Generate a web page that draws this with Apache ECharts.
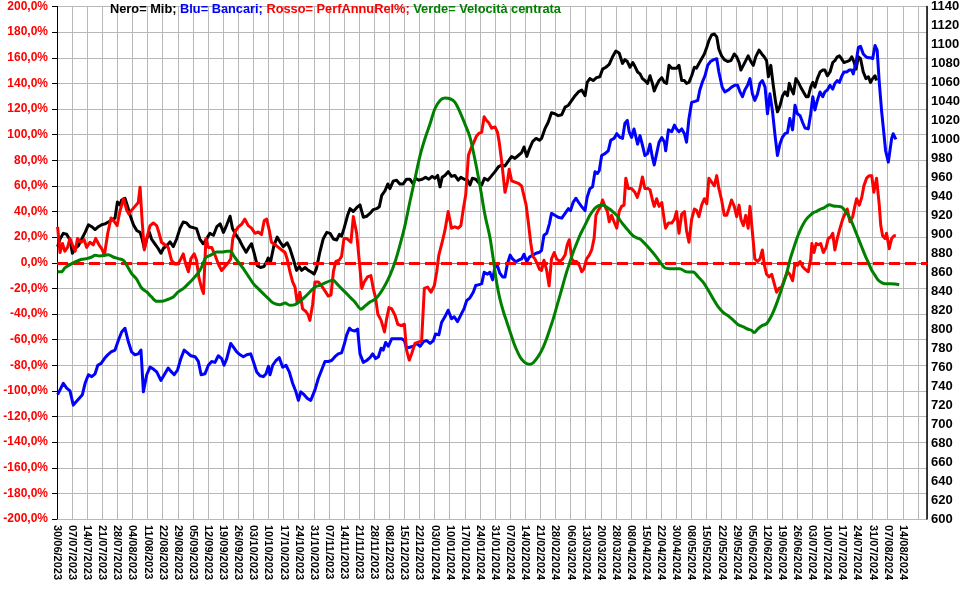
<!DOCTYPE html>
<html>
<head>
<meta charset="utf-8">
<script src="https://cdn.jsdelivr.net/npm/echarts@6/dist/echarts.min.js"></script>
<style>
html,body{margin:0;padding:0;background:#fff;}
#c{width:966px;height:589px;}
</style>
</head>
<body>
<div id="c"></div>
<script>
// Tick labels (one every 5 trading days, index = position/5)
const tickLabels = ["30/06/2023","07/07/2023","14/07/2023","21/07/2023","28/07/2023","04/08/2023","11/08/2023","22/08/2023","29/08/2023","05/09/2023","12/09/2023","19/09/2023","26/09/2023","03/10/2023","10/10/2023","17/10/2023","24/10/2023","31/10/2023","07/11/2023","14/11/2023","21/11/2023","28/11/2023","08/12/2023","15/12/2023","22/12/2023","03/01/2024","10/01/2024","17/01/2024","24/01/2024","31/01/2024","07/02/2024","14/02/2024","21/02/2024","28/02/2024","06/03/2024","13/03/2024","20/03/2024","28/03/2024","08/04/2024","15/04/2024","22/04/2024","30/04/2024","08/05/2024","15/05/2024","22/05/2024","29/05/2024","05/06/2024","12/06/2024","19/06/2024","26/06/2024","03/07/2024","10/07/2024","17/07/2024","24/07/2024","31/07/2024","07/08/2024","14/08/2024"];
const dayCount = 288; // trading-day slots on the x axis

// Nero = Mib (right axis) : [trading-day index, value]
const mib = [[0.2,887],[1.0,895],[2.1,901],[3.2,900],[4.3,894],[5.1,880],[6.0,885],[7.1,888],[8.2,895],[9.3,902],[10.4,910],[11.5,908],[12.6,905],[13.7,908],[14.8,910],[15.9,911],[17.0,913],[18.1,915],[19.2,917],[20.0,934],[20.8,931],[21.4,936],[22.5,938],[23.4,929],[24.2,920],[25.3,910],[26.4,904],[27.5,902],[28.2,895],[28.9,885],[29.7,895],[30.6,902],[31.3,895],[32.4,890],[33.5,885],[34.4,880],[35.2,885],[36.3,888],[37.4,892],[38.5,887],[39.6,895],[40.7,906],[41.8,913],[42.9,912],[44.0,908],[45.1,907],[46.2,906],[47.3,895],[48.4,890],
[49.5,895],[50.6,901],[51.8,899],[52.9,908],[54.0,911],[55.1,902],[56.2,910],[57.3,919],[58.1,906],[59.3,899],[60.4,894],[61.5,887],[62.6,881],[63.7,887],[64.4,890],[65.2,881],[66.3,867],[67.4,865],[68.5,866],[69.4,871],[69.9,875],[70.7,871],[71.8,888],[72.9,897],[73.8,892],[74.9,887],[76.2,891],[77.1,885],[78.2,874],[79.3,862],[80.2,866],[81.0,862],[82.1,865],[83.2,862],[84.3,860],[85.1,858],[85.9,864],[87.0,881],[88.1,895],[89.3,902],[90.4,901],[91.5,895],[92.6,894],[93.5,900],[94.2,898],[95.0,906],
[96.2,920],[97.0,927],[98.1,924],[99.2,928],[100.3,931],[101.4,918],[102.5,919],[103.6,922],[104.7,926],[105.8,927],[106.7,929],[107.5,941],[108.6,946],[109.5,953],[110.2,948],[111.3,956],[112.4,957],[113.5,953],[114.6,953],[115.7,958],[116.8,958],[117.9,953],[118.7,959],[119.8,957],[120.9,958],[122.0,960],[123.1,958],[124.2,961],[125.1,959],[126.0,962],[126.8,950],[127.5,960],[128.4,962],[129.5,966],[130.6,961],[131.7,962],[132.8,957],[133.7,960],[134.8,958],[135.9,957],[136.7,952],[137.5,959],[138.6,958],[139.7,954],[140.6,952],[141.5,959],[142.6,957],[143.7,961],
[144.2,959],[145.0,966],[146.1,971],[147.2,973],[148.3,972],[149.4,977],[150.5,982],[151.6,980],[152.7,983],[153.8,986],[154.6,992],[155.5,982],[156.4,990],[157.5,998],[158.6,1001],[159.7,999],[160.4,1001],[161.5,1011],[162.6,1018],[163.7,1028],[164.8,1027],[165.9,1025],[167.1,1026],[168.2,1034],[169.3,1036],[170.4,1041],[171.5,1046],[172.6,1050],[173.7,1052],[174.8,1046],[175.5,1060],[176.4,1064],[177.5,1062],[178.6,1065],[179.7,1066],[180.6,1074],[181.7,1076],[182.8,1079],[183.9,1087],[185.0,1093],[186.1,1091],[187.2,1080],[188.0,1084],[188.8,1082],[189.7,1076],[190.6,1081],
[191.3,1077],[192.2,1071],[193.0,1069],[193.8,1064],[194.6,1062],[195.5,1059],[196.3,1067],[197.1,1059],[197.7,1051],[198.5,1057],[199.3,1062],[200.2,1065],[201.1,1060],[201.8,1059],[202.6,1078],[203.5,1075],[204.4,1075],[205.1,1075],[205.9,1078],[206.8,1062],[207.7,1062],[208.4,1059],[209.2,1060],[210.1,1067],[211.0,1076],[211.7,1075],[212.5,1080],[213.4,1085],[214.3,1090],[215.1,1097],[215.8,1104],[216.7,1110],[217.6,1111],[218.4,1108],[219.1,1095],[220.0,1088],[220.9,1084],[222.0,1082],[223.1,1083],[224.2,1090],[225.0,1087],[225.8,1081],[226.4,1073],[227.2,1078],[228.0,1083],[228.8,1088],[229.7,1082],[230.5,1078],[231.3,1087],[232.4,1094],[233.3,1090],[234.1,1087],[234.9,1083],[235.5,1066],[236.3,1078],[237.1,1057],[237.9,1039],[238.5,1029],[239.3,1035],
[240.2,1046],[241.0,1050],[241.8,1046],[242.4,1059],[243.2,1052],[243.8,1048],[244.6,1064],[245.4,1060],[246.2,1055],[247.1,1050],[248.0,1045],[248.7,1045],[249.5,1055],[250.2,1060],[250.9,1055],[251.7,1064],[252.6,1071],[253.5,1073],[254.2,1073],[255.0,1067],[255.9,1071],[256.8,1081],[257.5,1083],[258.3,1087],[259.0,1088],[259.7,1085],[260.5,1081],[261.4,1082],[262.3,1083],[263.1,1087],[263.8,1082],[264.5,1074],[265.3,1087],[266.0,1085],[266.9,1071],[267.8,1064],[268.6,1066],[269.3,1060],[270.0,1064],[270.8,1067],[271.3,1062]];

// Blu = Bancari (right axis)
const bancari = [[0.2,731],[1.0,736],[2.1,743],[3.2,738],[4.3,735],[5.4,720],[6.5,724],[7.6,728],[8.4,731],[9.3,743],[10.4,752],[11.5,750],[12.6,753],[13.5,762],[14.6,764],[15.7,769],[16.8,773],[17.9,776],[19.2,778],[20.3,788],[21.4,797],[22.5,801],[23.6,787],[24.7,776],[25.8,773],[26.9,774],[27.8,778],[28.6,734],[29.7,752],[30.8,760],[31.9,758],[33.0,755],[34.4,746],[35.7,753],[36.8,759],[37.9,755],[38.8,752],[39.9,757],[41.0,769],[42.1,778],[43.2,775],[44.3,772],[45.7,771],[46.8,766],[47.7,752],
[49.0,753],[50.1,762],[51.2,766],[52.3,765],[53.4,772],[54.5,769],[55.3,762],[56.2,769],[57.5,785],[58.4,781],[59.5,776],[60.6,773],[61.7,771],[62.8,773],[64.1,774],[65.0,766],[66.1,755],[67.2,751],[68.3,750],[69.2,753],[70.0,761],[70.5,752],[71.4,762],[72.5,767],[73.6,770],[74.7,760],[75.8,762],[76.9,755],[78.0,743],[79.1,734],[79.9,725],[80.7,734],[81.8,731],[82.9,727],[84.0,725],[84.6,725],[85.4,736],[86.5,748],[87.6,757],[88.7,766],[89.8,766],[90.9,767],[92.0,771],[93.1,774],[94.2,775],[95.0,783],
[95.9,794],[96.8,801],[97.5,799],[98.6,798],[99.5,800],[100.3,774],[101.4,765],[102.5,767],[103.6,770],[104.5,774],[105.5,769],[106.4,771],[107.3,780],[108.0,778],[108.8,786],[109.7,782],[110.8,790],[111.9,790],[113.0,790],[114.1,790],[115.0,788],[115.7,780],[116.8,781],[117.9,782],[119.0,785],[120.2,782],[121.3,787],[122.4,788],[123.5,785],[124.6,788],[125.3,795],[126.4,794],[127.3,807],[128.4,813],[129.5,820],[130.6,811],[131.5,813],[132.6,808],[133.7,815],[134.8,822],[135.6,830],[136.7,833],[137.8,839],[138.6,846],[139.7,847],[140.6,848],[141.4,860],[142.5,858],[143.3,860],
[144.2,852],[145.0,866],[145.8,867],[146.6,859],[147.5,855],[148.3,855],[149.1,869],[150.0,878],[150.8,874],[151.9,871],[153.0,873],[153.8,874],[154.6,879],[155.5,871],[156.4,876],[157.5,878],[158.6,880],[159.7,881],[160.4,883],[161.2,899],[162.1,901],[163.0,911],[163.7,922],[164.8,920],[165.9,918],[167.1,917],[168.2,922],[169.3,927],[170.0,925],[170.9,934],[171.8,938],[172.6,934],[173.7,929],[174.8,925],[175.5,939],[176.4,948],[177.3,950],[178.1,966],[178.9,964],[179.5,967],[180.3,983],[181.4,985],[182.5,988],[183.3,999],[184.4,1001],[185.3,1006],[186.4,1002],[187.2,1001],[188.0,1017],[188.8,1020],[189.4,1008],[190.2,1002],[191.0,1011],
[192.2,995],[193.0,1004],[193.8,994],[194.6,983],[195.5,985],[196.3,995],[197.1,981],[197.7,973],[198.5,985],[199.3,997],[200.2,1002],[201.1,997],[201.5,988],[202.4,1010],[203.5,1008],[204.4,1015],[205.1,1011],[205.9,1008],[206.8,1011],[207.7,1006],[208.4,997],[209.2,1022],[210.1,1039],[211.2,1040],[212.1,1041],[212.8,1052],[213.6,1060],[214.5,1067],[215.4,1078],[216.3,1082],[217.4,1084],[218.4,1085],[219.1,1071],[220.2,1055],[221.1,1050],[222.2,1052],[223.3,1055],[224.4,1057],[225.3,1057],[226.1,1050],[226.9,1045],[227.7,1052],[228.6,1057],[229.4,1064],[230.2,1048],[231.0,1041],[231.9,1048],[232.7,1059],[233.5,1062],[234.4,1055],[235.2,1027],[236.0,1048],[236.8,1031],[237.7,1004],[238.5,983],[239.3,995],[240.1,1002],
[241.0,1006],[241.8,1007],[242.6,1022],[243.5,1010],[244.3,1036],[245.1,1027],[246.0,1025],[246.8,1018],[247.6,1012],[248.7,1011],[249.5,1027],[250.2,1045],[250.9,1031],[251.7,1041],[252.6,1050],[253.5,1045],[254.2,1050],[255.0,1052],[255.9,1057],[256.8,1053],[257.5,1059],[258.3,1062],[259.0,1060],[259.7,1066],[260.5,1071],[261.4,1071],[262.3,1073],[263.1,1073],[263.6,1069],[264.5,1081],[265.3,1097],[266.0,1098],[266.9,1090],[267.8,1087],[268.6,1086],[269.3,1086],[270.0,1085],[270.8,1099],[271.5,1094],[272.2,1060],[273.0,1029],[273.8,1004],[274.3,988],[275.2,976],[275.8,976],[276.3,1001],[276.8,1006],[277.7,1000]];

// Rosso = PerfAnnuRel% (left axis)
const perfAnnuRel = [[0.2,28],[1.0,8],[1.8,15],[2.6,9],[3.5,12],[4.3,19],[5.1,14],[6.0,9],[6.8,19],[7.9,16],[9.0,18],[9.8,12],[10.9,16],[12.0,14],[12.8,19],[13.9,14],[14.8,11],[15.7,6],[16.8,23],[17.9,35],[19.0,32],[19.9,29],[20.8,40],[22.0,50],[23.1,41],[23.8,38],[24.7,41],[25.8,44],[26.9,47],[27.5,59],[28.2,32],[28.9,10],[29.7,19],[30.8,29],[31.9,31],[33.0,29],[33.8,23],[34.6,16],[35.7,14],[36.8,12],[37.9,2],[39.0,-1],[40.1,-1],[41.0,3],[41.8,7],[42.6,-1],[43.5,-7],[44.3,3],[45.4,7],[46.2,2],[47.0,-12],[47.9,-20],[48.5,-24],
[49.3,19],[50.1,12],[51.2,12],[52.3,6],[53.4,-1],[54.5,-6],[55.6,-3],[56.7,0],[57.5,3],[58.2,19],[58.9,24],[60.0,28],[61.1,30],[62.2,34],[63.3,29],[64.4,27],[65.5,23],[66.6,24],[67.7,22],[68.6,33],[69.4,34],[70.3,25],[71.0,16],[72.2,14],[73.3,12],[74.4,10],[75.5,8],[76.2,3],[77.1,-7],[78.0,-15],[78.8,-19],[79.5,-31],[80.4,-23],[81.3,-36],[82.4,-38],[83.2,-41],[83.7,-45],[84.6,-33],[85.4,-15],[86.5,-15],[87.6,-18],[88.7,-22],[89.8,-26],[90.7,-25],[91.5,-7],[92.3,1],[93.4,2],[94.2,5],[95.0,19],[95.9,19],
[96.2,18],[97.3,16],[98.1,36],[99.2,23],[100.0,3],[100.9,-20],[101.7,-15],[102.8,-11],[103.9,-10],[104.7,-20],[105.5,-28],[106.2,-40],[107.3,-45],[108.4,-54],[109.1,-44],[109.9,-35],[110.8,-36],[111.9,-41],[112.8,-48],[113.9,-49],[115.0,-48],[115.7,-68],[116.6,-76],[117.4,-71],[118.5,-63],[119.6,-62],[120.7,-61],[121.6,-20],[122.7,-19],[123.8,-23],[124.9,-18],[125.7,-7],[126.4,6],[127.5,16],[128.4,25],[129.5,40],[130.6,27],[131.7,28],[132.8,27],[133.7,29],[134.5,42],[135.3,53],[136.2,84],[137.0,89],[137.8,93],[138.9,99],[139.7,101],[140.6,102],[141.4,114],[142.2,111],[143.0,109],[143.9,105],
[144.2,105],[145.0,106],[145.8,102],[146.4,94],[147.2,79],[147.8,66],[148.3,55],[149.1,63],[149.7,73],[150.5,64],[151.6,63],[152.7,62],[153.8,60],[154.4,59],[155.3,45],[156.0,32],[156.8,16],[157.5,5],[158.2,3],[159.0,-1],[159.7,-5],[160.4,-6],[161.2,2],[162.1,-6],[162.9,-18],[163.7,3],[164.6,8],[165.4,3],[166.5,1],[167.4,3],[168.2,6],[168.9,14],[169.6,18],[170.4,3],[171.1,1],[172.0,1],[172.9,-2],[173.7,-7],[174.4,-5],[175.3,3],[176.2,6],[177.0,10],[177.8,19],[178.4,37],[179.2,41],[180.0,44],[180.6,49],[181.4,44],[182.2,40],[182.8,32],[183.6,37],[184.4,32],[185.3,27],[186.1,40],[186.9,44],[187.7,45],[188.3,66],[189.1,58],[190.2,58],[191.3,55],[192.1,51],
[193.0,58],[193.8,67],[194.6,58],[195.5,58],[196.3,57],[197.1,49],[197.7,44],[198.5,50],[199.3,44],[200.2,47],[201.1,32],[201.5,27],[202.4,31],[203.5,31],[204.4,34],[205.1,40],[205.9,23],[206.8,38],[207.7,40],[208.4,25],[209.2,16],[210.1,34],[211.0,42],[211.7,41],[212.5,36],[213.4,45],[214.3,50],[215.1,46],[215.8,66],[216.7,63],[217.6,60],[218.4,68],[219.1,58],[220.0,49],[220.9,37],[221.7,37],[222.4,42],[223.3,49],[224.2,44],[225.0,36],[225.8,45],[226.4,34],[227.2,29],[228.0,37],[228.8,27],[229.4,44],[230.2,24],[231.0,3],[231.9,1],[232.7,3],[233.5,10],[234.1,-1],[234.9,-9],[235.7,-11],[236.6,-9],[237.4,-16],[238.2,-23],[239.0,-20],[239.9,-19],
[241.0,-12],[241.8,-7],[242.6,-9],[243.5,-14],[244.3,-1],[245.1,-2],[246.0,1],[246.8,-3],[247.6,-5],[248.7,-7],[249.5,3],[249.9,15],[250.6,8],[251.3,15],[252.0,14],[252.8,15],[253.7,8],[254.6,12],[255.3,19],[256.1,20],[256.8,23],[257.5,10],[258.3,19],[259.2,27],[260.1,34],[260.8,38],[261.6,42],[262.5,32],[263.4,36],[264.2,45],[264.7,50],[265.6,45],[266.4,51],[267.1,60],[268.0,66],[268.9,68],[269.7,68],[270.4,55],[271.3,66],[272.2,45],[272.7,29],[273.3,21],[274.1,19],[274.6,23],[275.5,11],[276.3,19],[277.1,21],[277.7,21]];

// Verde = Velocità centrata (left axis)
const velocita = [[0.2,-7],[1.5,-7],[2.6,-4],[4.3,-1.5],[6.0,0.6],[8.2,2.7],[9.8,3.2],[11.5,4.5],[12.6,5.8],[14.2,5.3],[15.9,5.8],[17.0,6.3],[18.6,4.5],[20.3,3.2],[22.0,1.9],[23.1,-2],[24.7,-8.5],[26.4,-12.9],[28.0,-19.7],[29.7,-22.8],[31.3,-26.7],[33.0,-30.1],[34.6,-30.1],[36.8,-28.5],[38.5,-26.7],[40.1,-22.8],[41.8,-20.2],[43.5,-16.3],[45.1,-12.4],[46.8,-7.7],[47.9,-3.3],[49.0,3.2],
[49.5,4.5],[51.2,6.3],[52.9,8.4],[54.5,8.4],[56.2,8.9],[57.5,8.9],[58.4,5.8],[60.0,0.6],[61.7,-4.6],[63.3,-10.3],[65.0,-16.3],[66.6,-20.2],[68.3,-24.1],[70.0,-28],[71.6,-31.4],[73.8,-32.7],[75.5,-31.4],[77.1,-33.2],[78.8,-32.7],[80.4,-30.1],[82.1,-26.7],[83.7,-22.8],[85.4,-18.9],[87.0,-17.6],[88.7,-15.8],[90.4,-14.2],[91.5,-13.7],[92.6,-16.3],[94.2,-20.2],[95.9,-24.1],
[96.4,-25.4],[97.5,-28],[98.6,-30.6],[99.8,-34.5],[100.6,-36.3],[102.0,-33.7],[103.6,-30.6],[105.3,-28.5],[106.9,-24.1],[108.6,-17.6],[110.2,-9.8],[111.9,0.6],[113.5,13.6],[115.2,29.2],[116.8,47.4],[118.5,65.6],[120.2,83.8],[121.8,96.8],[123.5,108.5],[125.1,120.2],[126.8,126.7],[128.4,128.5],[130.1,128],[131.7,125.4],[133.4,117.6],[135.0,108.5],[136.7,98.1],[138.3,81.2],[140.0,60.4],[141.7,37],
[143.3,20],[144.4,3.2],[145.5,-15],[146.6,-28],[147.8,-38.4],[148.9,-46.2],[150.0,-54],[151.1,-61.8],[152.2,-68.3],[153.3,-73.5],[154.4,-76.9],[155.5,-78.7],[156.6,-79.2],[157.7,-77.9],[158.8,-74.8],[159.9,-70.9],[161.0,-65.7],[162.1,-59.2],[163.2,-51.4],[164.3,-43.6],[165.4,-34.5],[166.5,-25.4],[167.6,-16.3],[168.7,-7.2],[169.8,0.6],[170.9,8.4],[172.0,14.9],[173.1,21.4],[174.2,26.6],[175.3,31.8],[176.4,37],[177.5,40.9],[178.6,43.5],[179.7,44.8],[180.8,44.8],[181.9,43.5],[183.0,41.7],[184.1,39.6],[185.3,37],[186.4,33.1],[187.5,29.7],[188.6,26.6],[189.7,23.5],[190.8,20.9],
[191.9,19.5],[193.0,18.5],[194.6,14.9],[196.3,10.5],[198.0,5.8],[199.6,0.6],[201.3,-4.1],[202.9,-4.6],[204.6,-4.6],[206.2,-4.6],[207.9,-6.7],[209.0,-7.2],[210.6,-7.2],[212.3,-11.1],[214.0,-15.5],[215.6,-21.5],[217.3,-28.5],[218.9,-34.5],[220.6,-38.9],[222.2,-41.5],[223.9,-44.9],[225.5,-48.3],[227.2,-50.1],[228.8,-51.9],[229.9,-52.7],[230.8,-54.5],[231.9,-51.9],[233.2,-49.3],[234.9,-47.5],[236.6,-41],[238.2,-31.9],[239.9,-20.2],
[241.5,-8.5],[242.6,1.9],[243.8,11],[244.9,18.8],[246.0,25.3],[247.1,30.5],[248.2,34.4],[249.3,37],[250.4,39.1],[251.5,40.1],[252.6,41.7],[253.7,42.7],[254.8,44.3],[255.7,45.3],[257.0,44.3],[258.6,44],[259.7,43.5],[260.8,40.9],[261.9,37],[263.1,31.8],[264.2,25.3],[265.3,18.8],[266.4,12.3],[267.5,5.8],[268.6,0.1],[269.7,-5.9],[270.8,-9.8],[271.9,-13.7],[273.0,-15.5],[274.1,-16.3],[275.7,-16.3],[277.4,-16.5],[278.8,-17.1]];

const FONT = '"Liberation Sans", Arial, sans-serif';
const chart = echarts.init(document.getElementById('c'));
chart.setOption({
  animation: false,
  backgroundColor: '#ffffff',
  textStyle: { fontFamily: FONT },
  title: {
    left: 105, top: -2,
    text: '{k|Nero= Mib; }{b|Blu= Bancari; }{r|Rosso= PerfAnnuRel%; }{g|Verde= Velocità centrata}',
    textStyle: {
      fontFamily: FONT, fontSize: 12.8, fontWeight: 'bold',
      rich: {
        k: { color: '#000000', fontFamily: FONT, fontSize: 12.8, fontWeight: 'bold' },
        b: { color: '#0000ff', fontFamily: FONT, fontSize: 12.8, fontWeight: 'bold' },
        r: { color: '#ff0000', fontFamily: FONT, fontSize: 12.8, fontWeight: 'bold' },
        g: { color: '#008000', fontFamily: FONT, fontSize: 12.8, fontWeight: 'bold' }
      }
    }
  },
  grid: { left: 57, right: 39, top: 6, bottom: 70, containLabel: false },
  xAxis: {
    type: 'value', min: 0, max: dayCount, interval: 5,
    axisLine: { show: true, lineStyle: { color: '#808080', width: 1 } },
    axisTick: { show: false },
    splitLine: { show: true, lineStyle: { color: '#b8b8b8', width: 1 } },
    axisLabel: {
      rotate: -90, margin: 6, color: '#000', fontWeight: 'bold', fontSize: 11, fontFamily: FONT,
      showMinLabel: true, showMaxLabel: true,
      formatter: function (v) { const t = tickLabels[v / 5]; return t === undefined ? '' : t; }
    }
  },
  yAxis: [
    {
      type: 'value', min: -200, max: 200, interval: 20, position: 'left',
      axisLine: { show: true, lineStyle: { color: '#000', width: 1 } },
      axisTick: { show: true, length: 5, lineStyle: { color: '#000' } },
      splitLine: { show: true, lineStyle: { color: '#b8b8b8', width: 1 } },
      axisLabel: {
        color: '#ff0000', fontWeight: 'bold', fontSize: 12, margin: 9, fontFamily: FONT,
        formatter: function (v) { return v.toFixed(1).replace('.', ',') + '%'; }
      }
    },
    {
      type: 'value', min: 600, max: 1140, interval: 20, position: 'right',
      axisLine: { show: true, lineStyle: { color: '#000', width: 1.5 } },
      axisTick: { show: false },
      splitLine: { show: false },
      axisLabel: {
        color: '#000', fontWeight: 'bold', fontSize: 13, margin: 4, fontFamily: FONT,
        formatter: function (v) { return String(v); }
      }
    }
  ],
  series: [
    {
      name: 'Mib', type: 'line', yAxisIndex: 1, data: mib, showSymbol: false,
      lineStyle: { color: '#000000', width: 3, join: 'round' }, z: 2
    },
    {
      name: 'Bancari', type: 'line', yAxisIndex: 1, data: bancari, showSymbol: false,
      lineStyle: { color: '#0000ff', width: 3, join: 'round' }, z: 3
    },
    {
      name: 'PerfAnnuRel', type: 'line', yAxisIndex: 0, data: perfAnnuRel, showSymbol: false,
      lineStyle: { color: '#ff0000', width: 3, join: 'round' }, z: 4,
      markLine: {
        silent: true, symbol: 'none', label: { show: false },
        lineStyle: { color: '#ff0000', width: 3, type: [11, 5] },
        data: [{ yAxis: 0 }]
      }
    },
    {
      name: 'Velocita', type: 'line', yAxisIndex: 0, data: velocita, showSymbol: false, smooth: 0.3,
      lineStyle: { color: '#008000', width: 3, join: 'round' }, z: 5
    }
  ]
});
</script>
</body>
</html>
